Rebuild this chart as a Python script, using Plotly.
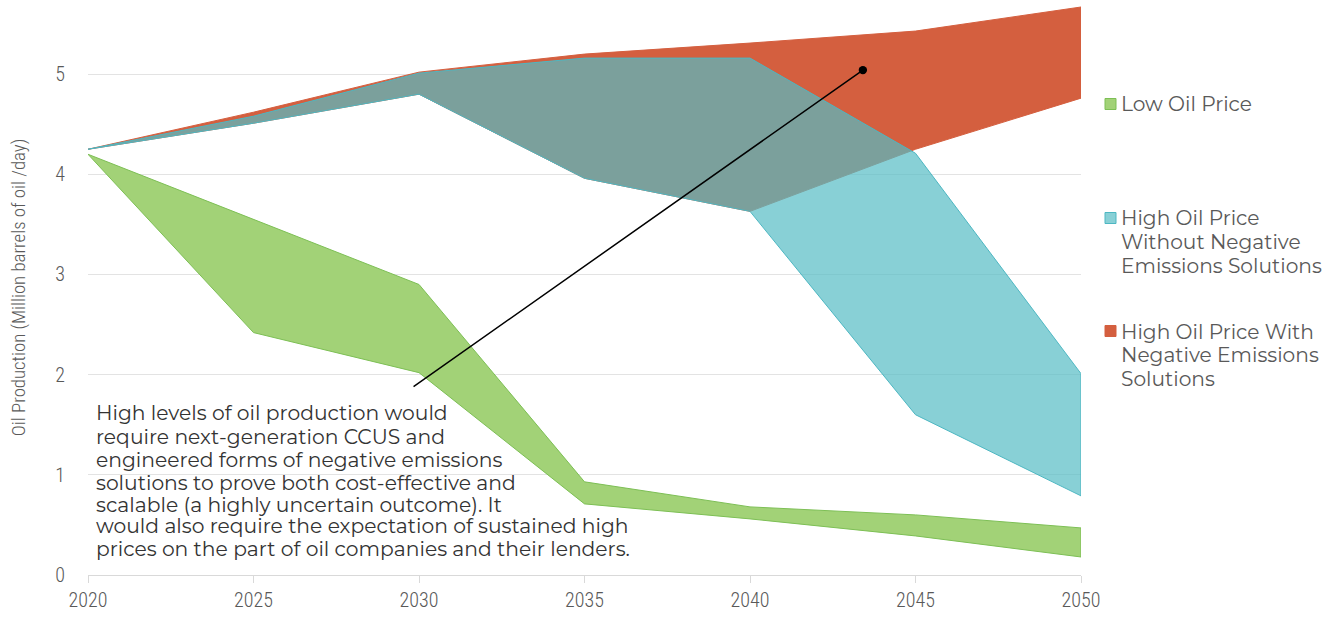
import plotly.graph_objects as go

years = [2020, 2025, 2030, 2035, 2040, 2045, 2050]
low_upper = [4.2, 3.55, 2.9, 0.93, 0.68, 0.6, 0.47]
low_lower = [4.2, 2.42, 2.02, 0.71, 0.56, 0.39, 0.18]
hi_no_upper = [4.25, 4.58, 5.01, 5.16, 5.16, 4.21, 2.01]
hi_no_lower = [4.25, 4.51, 4.8, 3.96, 3.63, 1.6, 0.79]
hi_neg_upper = [4.25, 4.62, 5.02, 5.2, 5.31, 5.43, 5.67]
hi_neg_lower = [4.25, 4.51, 4.8, 3.96, 3.63, 4.25, 4.76]

legend_low = ["Low Oil Price"]
legend_no_neg = ["High Oil Price", "Without Negative", "Emissions Solutions"]
legend_neg = ["High Oil Price With", "Negative Emissions", "Solutions"]

note_lines = ["High levels of oil production would",
              "require next-generation CCUS and",
              "engineered forms of negative emissions",
              "solutions to prove both cost-effective and",
              "scalable (a highly uncertain outcome). It",
              "would also require the expectation of sustained high",
              "prices on the part of oil companies and their lenders."]

y_title = "Oil Production (Million barrels of oil /day)"

GREEN_F, GREEN_L = "#A2D277", "#7DBF55"
TEAL_F, TEAL_L = "rgba(86,188,196,0.7)", "#4DB7C2"
RED_F, RED_L = "#D45F3F", "#D45F3F"

NARROW = "Roboto Condensed, Liberation Sans Narrow, DejaVu Sans Condensed, sans-serif"
BODY = "Montserrat, Open Sans, sans-serif"

def band(upper, lower):
    return years + years[::-1], upper + lower[::-1]

fig = go.Figure()
for up, lo, fc, lc, nm in [(low_upper, low_lower, GREEN_F, GREEN_L, " ".join(legend_low)),
                           (hi_neg_upper, hi_neg_lower, RED_F, RED_L, " ".join(legend_neg)),
                           (hi_no_upper, hi_no_lower, TEAL_F, TEAL_L, " ".join(legend_no_neg))]:
    bx, by = band(up, lo)
    fig.add_trace(go.Scatter(x=bx, y=by, fill="toself", fillcolor=fc, mode="lines",
                             line=dict(color=lc, width=1), name=nm,
                             showlegend=False, hoverinfo="skip"))

W, H = 1336, 620
ML, MR, MT, MB = 88, 255, 0, 45
pw, ph = W - ML - MR, H - MT - MB

def px(p):
    return (p - ML) / pw

def py(q):
    return (H - MB - q) / ph

# manual legend (square + text lines)
legend_items = [(legend_low, GREEN_F, GREEN_L, 104),
                (legend_no_neg, "#88D0D6", TEAL_L, 218),
                (legend_neg, RED_F, RED_L, 331)]
LEG_STEP = 23.5
for lines, fc, lc, yc in legend_items:
    fig.add_shape(type="rect", xref="paper", yref="paper",
                  x0=px(1105), x1=px(1116), y0=py(yc + 5.5), y1=py(yc - 5.5),
                  fillcolor=fc, line=dict(color=lc, width=1))
    for k, ln in enumerate(lines):
        fig.add_annotation(xref="paper", yref="paper", x=px(1119), y=py(yc + k * LEG_STEP),
                           xanchor="left", yanchor="middle", align="left", showarrow=False,
                           text=ln, font=dict(family=BODY, size=20.2, color="#595959"))

# note text, one annotation per line
note_y = [412, 436, 459, 482, 504, 525, 548]
for ln, yy in zip(note_lines, note_y):
    fig.add_annotation(xref="paper", yref="paper", x=px(94), y=py(yy),
                       xanchor="left", yanchor="middle", align="left", showarrow=False,
                       text=ln, font=dict(family=BODY, size=20.3, color="#333333"))

# pointer line with dot
fig.add_annotation(x=2043.41, y=5.04, ax=2029.79, ay=1.87, axref="x", ayref="y",
                   xref="x", yref="y", text="", showarrow=True, arrowhead=6,
                   arrowsize=1.4, arrowwidth=1.5, arrowcolor="black")

fig.update_layout(
    width=W, height=H, margin=dict(l=ML, r=MR, t=MT, b=MB),
    plot_bgcolor="white", paper_bgcolor="white", showlegend=False,
    xaxis=dict(range=[2020, 2050], tickvals=years, showgrid=False, zeroline=False,
               showline=True, linecolor="#D9D9D9", linewidth=1,
               ticks="outside", ticklen=7, tickcolor="#D9D9D9",
               tickfont=dict(family=NARROW, size=20, color="#595959", weight=300)),
    yaxis=dict(range=[0, 5.74], dtick=1, showgrid=True, gridcolor="#E3E3E3",
               zeroline=False, showline=False, ticks="outside", ticklen=18,
               tickcolor="rgba(0,0,0,0)",
               tickfont=dict(family=NARROW, size=20, color="#595959", weight=300),
               title=dict(text=y_title, standoff=24,
                          font=dict(family=NARROW, size=18.8, color="#595959", weight=300))),
)

fig.write_html("out.html", config={"displayModeBar": False},
               post_script="document.body.style.margin='0px';")
